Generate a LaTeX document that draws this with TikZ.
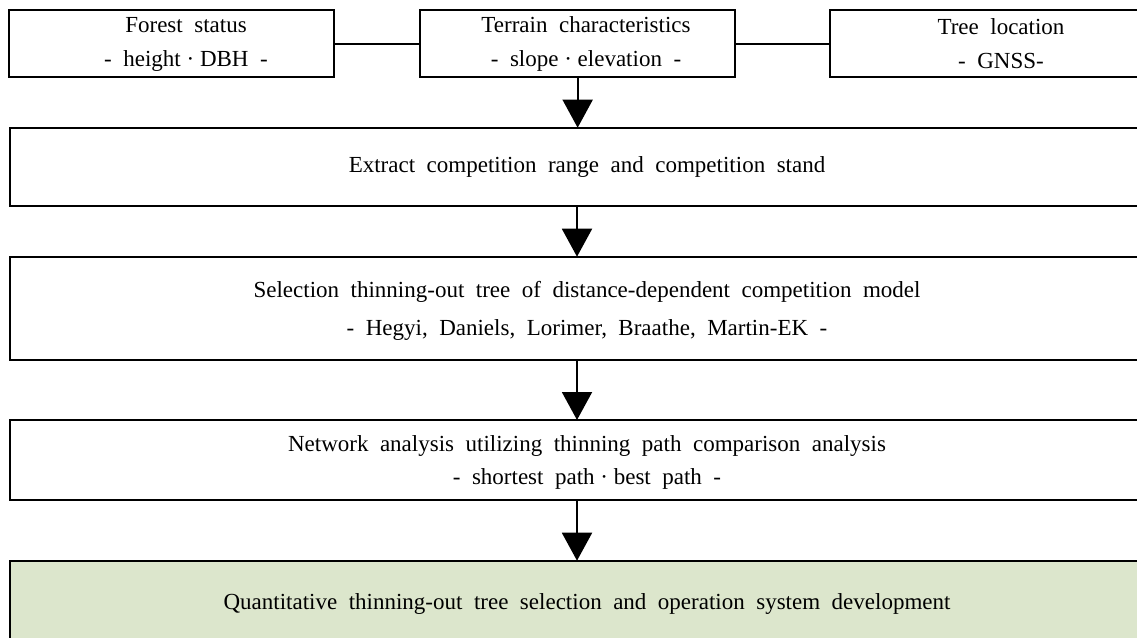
\documentclass[tikz,border=0pt]{standalone}
\usepackage{fontspec}
\setmainfont{Liberation Serif}
\usetikzlibrary{arrows.meta}
\definecolor{boxgreen}{RGB}{220,230,204}
\newcommand\dotsp{\hspace{0.25em}·\hspace{0.25em}}
\newcommand\txtfont{\fontsize{17.25pt}{25.5pt}\selectfont\spaceskip=0.5em\relax}
\newcommand\selfont{\fontsize{17.25pt}{28.3pt}\selectfont\spaceskip=0.5em\relax}
\newcommand\netfont{\fontsize{17.25pt}{24.75pt}\selectfont\spaceskip=0.5em\relax}
\begin{document}
\begin{tikzpicture}[x=0.75pt,y=-0.75pt,
  box/.style={draw, line width=1.5pt, inner sep=0pt, outer sep=0pt},
  txt/.style={font=\txtfont, align=center, inner sep=0pt},
  conn/.style={line width=1.5pt},
  arr/.style={line width=1.5pt, -{Triangle[width=22.5pt,length=21pt]}}]
\useasboundingbox (0,0) rectangle (1137,638);
% top row
\node[box, minimum width=325*0.75pt, minimum height=67.3*0.75pt] (forest) at (171.8,43.65) {};
\node[box, minimum width=315.3*0.75pt, minimum height=67.3*0.75pt] (terrain) at (577.65,43.65) {};
\node[box, minimum width=342.3*0.75pt, minimum height=67.3*0.75pt] (tree) at (1000.9,43.65) {};
\node[txt] (forest-t) at (186,44) {Forest status\\- height\dotsp DBH -};
\node[txt] (terrain-t) at (586,44) {Terrain characteristics\\- slope\dotsp elevation -};
\node[txt] (tree-t) at (1001,44) {Tree location\\- GNSS-};
% main boxes
\node[box, minimum width=1134*0.75pt, minimum height=78*0.75pt] (extract) at (577,166.7) {};
\node[box, minimum width=1134*0.75pt, minimum height=103.3*0.75pt] (select) at (577,308.35) {};
\node[box, minimum width=1134*0.75pt, minimum height=80*0.75pt] (network) at (577,460) {};
\node[box, fill=boxgreen, minimum width=1134*0.75pt, minimum height=85.3*0.75pt] (final) at (577,603.35) {};
\node[txt] (extract-t) at (587,167) {Extract competition range and competition stand};
\node[txt, font=\selfont] (select-t) at (587,311) {Selection thinning-out tree of distance-dependent competition model\\- Hegyi, Daniels, Lorimer, Braathe, Martin-EK -};
\node[txt, font=\netfont] (network-t) at (587,462) {Network analysis utilizing thinning path comparison analysis\\- shortest path\dotsp best path -};
\node[txt] (final-t) at (587,604) {Quantitative thinning-out tree selection and operation system development};
% connectors
\draw[conn] (forest.east) -- (terrain.west);
\draw[conn] (terrain.east) -- (tree.west);
\draw[arr] (terrain.south) -- (terrain.south |- extract.north);
\draw[arr] (extract.south) -- (select.north);
\draw[arr] (select.south) -- (network.north);
\draw[arr] (network.south) -- (final.north);
\end{tikzpicture}
\end{document}
